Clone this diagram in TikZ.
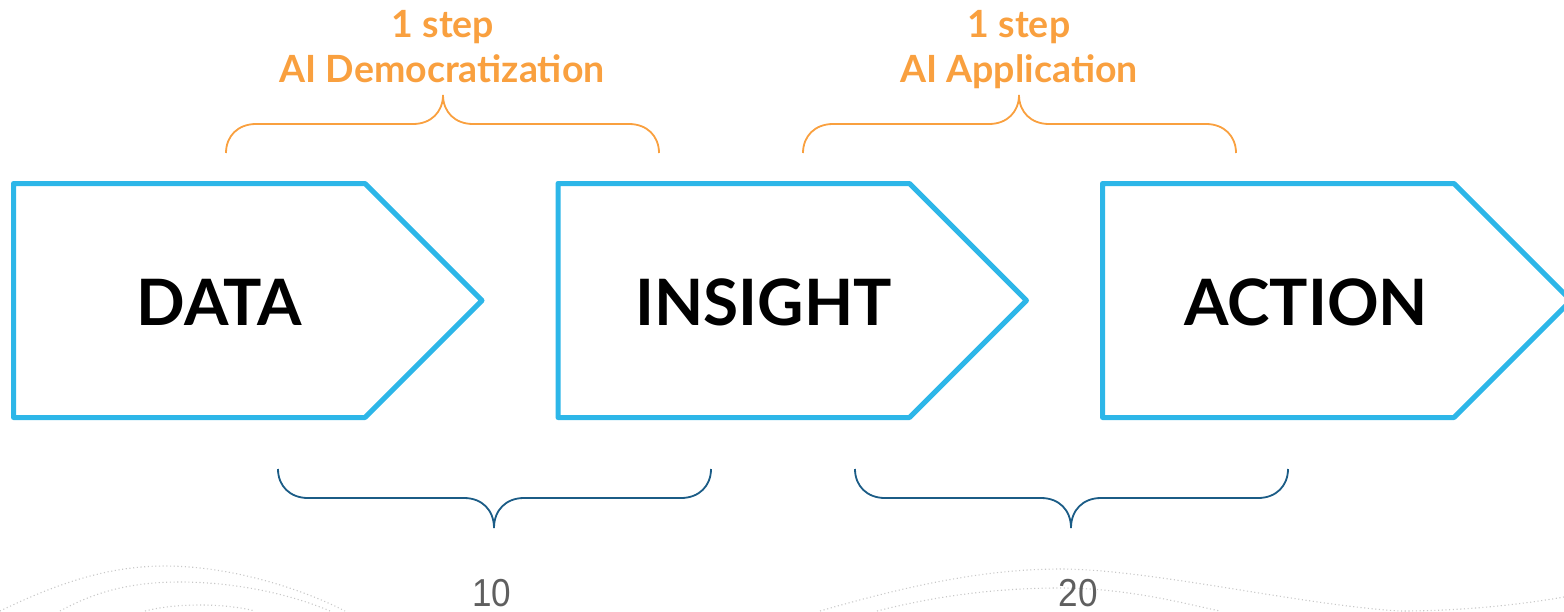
\documentclass[tikz,border=0pt]{standalone}
\usepackage{fontspec}
\setmainfont{Lato}
\newfontfamily\numfont[FakeStretch=0.9]{Liberation Sans}
\definecolor{skyblue}{HTML}{2DB6E8}
\definecolor{orangeA}{HTML}{F9A03F}
\definecolor{navyA}{HTML}{1B5C86}
\definecolor{grayA}{HTML}{5F5F5F}
\definecolor{dotgray}{HTML}{C8C8C8}
\begin{document}
\begin{tikzpicture}[x=1pt,y=-1pt,
  chevron/.style={draw=skyblue,line width=5pt,line join=round},
  boxlabel/.style={font=\bfseries\fontsize{64}{70}\selectfont,anchor=base,inner sep=0pt},
  toplabel/.style={font=\bfseries\fontsize{37.5}{42}\selectfont,text=orangeA,anchor=base,inner sep=0pt},
  numlabel/.style={font=\numfont\fontsize{39}{44}\selectfont,text=grayA,anchor=base,inner sep=0pt},
  topbrace/.style={draw=orangeA,line width=1.8pt},
  botbrace/.style={draw=navyA,line width=1.8pt},
  wave/.style={draw=dotgray,line width=1.1pt,dash pattern=on 1.1pt off 2.6pt}]
\useasboundingbox (0,0) rectangle (1564,611);
\clip (0,0) rectangle (1564,611);

% background dotted waves
\draw[wave] (0,611) .. controls (60,582) and (110,566) .. (165,566) .. controls (230,566) and (300,588) .. (345,611);
\draw[wave] (60,611) .. controls (95,592) and (130,582) .. (180,582) .. controls (240,582) and (295,596) .. (330,611);
\draw[wave] (145,611) .. controls (165,606) and (185,605) .. (200,605) .. controls (220,605) and (240,607) .. (255,611);
\draw[wave] (820,611) .. controls (900,588) and (980,569) .. (1060,569) .. controls (1150,569) and (1300,605) .. (1400,611) .. controls (1470,611) and (1530,603) .. (1564,597);
\draw[wave] (877,611) .. controls (940,595) and (1000,588) .. (1060,588) .. controls (1130,588) and (1190,605) .. (1220,611);

% chevrons
\draw[chevron] (13.5,183.5) -- (365,183.5) -- (482,300.5) -- (365,417.5) -- (13.5,417.5) -- cycle;
\draw[chevron] (558,183.5) -- (909.5,183.5) -- (1026.5,300.5) -- (909.5,417.5) -- (558,417.5) -- cycle;
\draw[chevron] (1102.5,183.5) -- (1454,183.5) -- (1571,300.5) -- (1454,417.5) -- (1102.5,417.5) -- cycle;

\node[boxlabel] (data) at (219.5,325) {DATA};
\node[boxlabel] (insight) at (763.5,325) {INSIGHT};
\node[boxlabel] (action) at (1306,325) {ACTION};

% top labels
\node[toplabel] (stepA) at (443,37) {1 step};
\node[toplabel] (nameA) at (442,82) {AI Democratization};
\node[toplabel] (stepB) at (1019,37) {1 step};
\node[toplabel] (nameB) at (1019,82) {AI Application};

% top braces
\draw[topbrace] (226,153) .. controls (226,136) and (238,124) .. (256,124) -- (413,124)
  .. controls (431,124) and (443,112) .. (443,95) .. controls (443,112) and (455,124) .. (473,124)
  -- (629,124) .. controls (647,124) and (659,136) .. (659,153);
\draw[topbrace] (803,153) .. controls (803,136) and (815,124) .. (833,124) -- (989,124)
  .. controls (1007,124) and (1019,112) .. (1019,95) .. controls (1019,112) and (1031,124) .. (1049,124)
  -- (1206,124) .. controls (1224,124) and (1236,136) .. (1236,153);

% bottom braces
\draw[botbrace] (278,469) .. controls (278,486) and (290,498) .. (308,498) -- (464,498)
  .. controls (482,498) and (494,510) .. (494,528) .. controls (494,510) and (506,498) .. (524,498)
  -- (681,498) .. controls (699,498) and (711,486) .. (711,469);
\draw[botbrace] (855,469) .. controls (855,486) and (867,498) .. (885,498) -- (1041,498)
  .. controls (1059,498) and (1071,510) .. (1071,528) .. controls (1071,510) and (1083,498) .. (1101,498)
  -- (1258,498) .. controls (1276,498) and (1288,486) .. (1288,469);

\node[numlabel] (numA) at (492,606) {10};
\node[numlabel] (numB) at (1078,606) {20};
\end{tikzpicture}
\end{document}
